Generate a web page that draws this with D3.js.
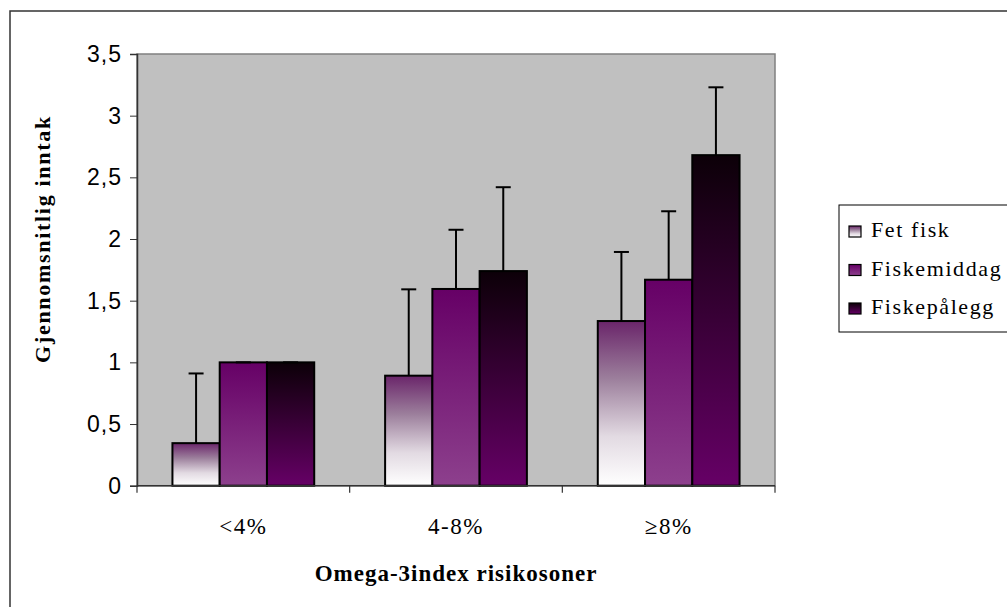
<!DOCTYPE html>
<html>
<head>
<meta charset="utf-8">
<script src="https://cdn.jsdelivr.net/npm/d3@7"></script>
<style>
  html, body { margin: 0; padding: 0; background: #fff; }
  svg { display: block; }
</style>
</head>
<body>
<svg id="chart" width="1007" height="607"></svg>
<script>
const categories = ["<4%", "4-8%", "\u22658%"];
const seriesNames = ["Fet fisk", "Fiskemiddag", "Fiskepålegg"];
const fetFisk = [0.345, 0.892, 1.335];
const fetFiskErr = [0.565, 0.70, 0.56];
const fiskemiddag = [1.0, 1.595, 1.67];
const fiskemiddagErr = [0, 0.48, 0.555];
const fiskepalegg = [1.0, 1.74, 2.68];
const fiskepaleggErr = [0, 0.68, 0.55];
const yTicks = [0, 0.5, 1, 1.5, 2, 2.5, 3, 3.5];

const seriesValues = [fetFisk, fiskemiddag, fiskepalegg];
const seriesErrors = [fetFiskErr, fiskemiddagErr, fiskepaleggErr];

const SERIF = "'Liberation Serif', 'Times New Roman', serif";
const SANS = "'Liberation Sans', Arial, sans-serif";

const svg = d3.select("#chart");
const W = 1007, H = 607;
const plot = { left: 137, right: 775, top: 54, bottom: 485.7 };

// gradients
const defs = svg.append("defs");
const gradStops = [
  [["0%", "#6a256a"], ["35%", "#9c7f9c"], ["70%", "#e2dae2"], ["100%", "#ffffff"]],
  [["0%", "#660066"], ["100%", "#8d408d"]],
  [["0%", "#0c0008"], ["100%", "#660066"]]
];
gradStops.forEach((stops, i) => {
  const g = defs.append("linearGradient").attr("id", "g" + i)
    .attr("x1", 0).attr("y1", 0).attr("x2", 0).attr("y2", 1);
  stops.forEach(s => g.append("stop").attr("offset", s[0]).attr("stop-color", s[1]));
});

// outer border
svg.append("rect").attr("x", 10).attr("y", 11).attr("width", W + 20).attr("height", H + 20)
  .attr("fill", "#fff").attr("stroke", "#333").attr("stroke-width", 1.5);

const x = d3.scaleBand().domain(categories).range([plot.left, plot.right]).paddingInner(0).paddingOuter(0);
const xSub = d3.scaleBand().domain(seriesNames).range([0, x.bandwidth()]).paddingInner(0).paddingOuter(0.75);
const y = d3.scaleLinear().domain([0, 3.5]).range([plot.bottom, plot.top]);

// plot area
svg.append("rect").attr("x", plot.left).attr("y", plot.top)
  .attr("width", plot.right - plot.left).attr("height", plot.bottom - plot.top)
  .attr("fill", "#c0c0c0").attr("stroke", "#808080").attr("stroke-width", 1.5);

// bars
seriesNames.forEach((name, si) => {
  const g = svg.append("g");
  g.selectAll("rect").data(categories).join("rect")
    .attr("x", c => x(c) + xSub(name))
    .attr("y", (c, i) => y(seriesValues[si][i]))
    .attr("width", xSub.bandwidth())
    .attr("height", (c, i) => y(0) - y(seriesValues[si][i]))
    .attr("fill", "url(#g" + si + ")")
    .attr("stroke", "#000").attr("stroke-width", 2);
  const e = svg.append("g").attr("stroke", "#000").attr("stroke-width", 2);
  categories.forEach((c, i) => {
    const cx = x(c) + xSub(name) + xSub.bandwidth() / 2;
    const v = seriesValues[si][i], er = seriesErrors[si][i];
    e.append("line").attr("x1", cx).attr("x2", cx).attr("y1", y(v)).attr("y2", y(v + er));
    e.append("line").attr("x1", cx - 7.5).attr("x2", cx + 7.5).attr("y1", y(v + er)).attr("y2", y(v + er));
  });
});

// y axis
const yAxis = d3.axisLeft(y).tickValues(yTicks).tickSize(7).tickPadding(8)
  .tickFormat(d => String(d).replace(".", ","));
const ya = svg.append("g").attr("transform", `translate(${plot.left},0)`).call(yAxis);
ya.select(".domain").attr("stroke", "#333").attr("stroke-width", 1.5);
ya.selectAll(".tick line").attr("stroke", "#333");
ya.selectAll("text").style("font-family", SANS).attr("font-size", 23).attr("fill", "#000")
  .attr("letter-spacing", 1);

// x axis
const xa = svg.append("g").attr("transform", `translate(0,${plot.bottom})`);
xa.append("line").attr("x1", plot.left).attr("x2", plot.right).attr("y1", 0).attr("y2", 0)
  .attr("stroke", "#333").attr("stroke-width", 1.5);
const bounds = categories.map(c => x(c)).concat([plot.right]);
xa.selectAll("line.t").data(bounds).join("line").attr("class", "t")
  .attr("x1", d => d).attr("x2", d => d).attr("y1", 0).attr("y2", 7)
  .attr("stroke", "#333").attr("stroke-width", 1.2);
xa.selectAll("text").data(categories).join("text")
  .attr("x", c => x(c) + x.bandwidth() / 2).attr("y", 48)
  .attr("text-anchor", "middle")
  .style("font-family", SERIF).attr("font-size", 23).attr("letter-spacing", 1.5)
  .text(c => c);

// axis titles
svg.append("text").attr("x", (plot.left + plot.right) / 2).attr("y", 581)
  .attr("text-anchor", "middle").style("font-family", SERIF)
  .attr("font-size", 23).attr("font-weight", "bold").attr("letter-spacing", 1)
  .text("Omega-3index risikosoner");
svg.append("text").attr("transform", "translate(50,239) rotate(-90)")
  .attr("text-anchor", "middle").style("font-family", SERIF)
  .attr("font-size", 22).attr("font-weight", "bold").attr("letter-spacing", 1.7)
  .text("Gjennomsnitlig inntak");

// legend
const lg = svg.append("g");
lg.append("rect").attr("x", 839).attr("y", 205).attr("width", 220).attr("height", 127)
  .attr("fill", "#fff").attr("stroke", "#000").attr("stroke-width", 1);
seriesNames.forEach((name, i) => {
  const by = 237 + i * 38.5;
  lg.append("rect").attr("x", 849).attr("y", by - 11).attr("width", 12).attr("height", 11)
    .attr("fill", "url(#g" + i + ")").attr("stroke", "#000").attr("stroke-width", 1.2);
  lg.append("text").attr("x", 871).attr("y", by)
    .style("font-family", SERIF).attr("font-size", 22).attr("letter-spacing", 1.6)
    .text(name);
});
</script>
</body>
</html>
